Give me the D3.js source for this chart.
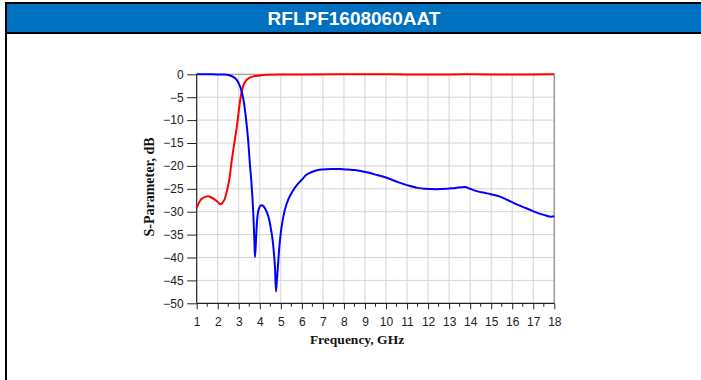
<!DOCTYPE html>
<html>
<head>
<meta charset="utf-8">
<script src="https://cdn.jsdelivr.net/npm/d3@7"></script>
<style>
  html, body { margin: 0; padding: 0; background: #fff; }
  svg { display: block; }
</style>
</head>
<body>
<svg id="chart" width="701" height="380"></svg>
<script>
const titleText = "RFLPF1608060AAT";
const xLabel = "Frequency, GHz";
const yLabel = "S-Parameter, dB";
const xTicks = [1,2,3,4,5,6,7,8,9,10,11,12,13,14,15,16,17,18];
const yTicks = [0,-5,-10,-15,-20,-25,-30,-35,-40,-45,-50];

// Red curve (reflection), [GHz, dB]
const redFreq = [1.0,1.08,1.16,1.3,1.45,1.55,1.7,1.87,2.0,2.14,2.25,2.35,2.45,2.55,2.66,2.78,2.9,3.0,3.06,3.12,3.18,3.28,3.38,3.5,3.69,4.0,4.33,5,6,8,10,12,14,16,18];
const redDb   = [-29.2,-28.3,-27.6,-27.0,-26.7,-26.6,-26.9,-27.4,-27.9,-28.4,-27.9,-27.0,-25.2,-23.0,-19.0,-15.3,-11.7,-8.0,-5.9,-4.2,-3.0,-1.8,-1.2,-0.8,-0.45,-0.25,-0.1,-0.05,-0.03,0,0,-0.05,0,-0.05,0];

// Blue curve (transmission), [GHz, dB]
const blueFreq = [1.0,1.5,2.0,2.27,2.45,2.58,2.75,2.9,3.0,3.09,3.21,3.34,3.45,3.53,3.6,3.69,3.74,3.77,3.81,3.85,3.93,4.06,4.15,4.25,4.35,4.45,4.53,4.61,4.67,4.72,4.77,4.81,4.85,4.93,5.0,5.09,5.18,5.28,5.45,5.59,5.8,6.0,6.2,6.39,6.6,6.94,7.4,7.81,8.2,8.52,8.8,9.08,9.5,10.03,10.6,11.14,11.5,11.85,12.4,12.88,13.3,13.75,14.0,14.31,14.8,15.42,15.8,16.21,16.7,17.16,17.5,17.87,18];
const blueDb   = [0,0,-0.02,-0.05,-0.1,-0.25,-0.6,-1.2,-2.0,-3.0,-5.2,-9.5,-14.6,-19.7,-23.5,-30.4,-36.0,-39.9,-37.0,-33.3,-29.8,-28.6,-28.7,-29.3,-30.3,-31.8,-33.8,-36.2,-39.0,-42.0,-47.4,-45.0,-42.7,-37.6,-34.5,-31.8,-29.8,-28.2,-26.4,-25.3,-24.0,-23.0,-22.0,-21.5,-21.1,-20.8,-20.7,-20.7,-20.8,-20.9,-21.1,-21.4,-21.9,-22.6,-23.6,-24.4,-24.8,-25.0,-25.1,-25.0,-24.8,-24.6,-25.0,-25.5,-26.0,-26.7,-27.5,-28.4,-29.3,-30.2,-30.7,-31.1,-31.0];

const svg = d3.select("#chart");

// Frame: title bar and borders
svg.append("rect").attr("x", 5).attr("y", 2).attr("width", 696).attr("height", 32).attr("fill", "#000");
svg.append("rect").attr("x", 7).attr("y", 4).attr("width", 694).attr("height", 28).attr("fill", "#0070C0");
svg.append("rect").attr("x", 5).attr("y", 2).attr("width", 2).attr("height", 378).attr("fill", "#000");
svg.append("text").attr("x", 354).attr("y", 25).attr("text-anchor", "middle")
  .attr("font-family", "Liberation Sans, Arial, sans-serif").attr("font-weight", "bold")
  .attr("font-size", "19px").attr("fill", "#fff").text(titleText);

const x = d3.scaleLinear().domain([1, 18]).range([196.7, 554.3]);
const y = d3.scaleLinear().domain([-50, 0]).range([303.3, 74.3]);

// grid
const g = svg.append("g");
g.selectAll(".vg").data(xTicks.slice(1, -1)).join("line")
  .attr("x1", d => x(d)).attr("x2", d => x(d)).attr("y1", y(0)).attr("y2", y(-50))
  .attr("stroke", "#d4d4d4").attr("stroke-width", 1);
g.selectAll(".hg").data(yTicks.slice(1, -1)).join("line")
  .attr("x1", x(1)).attr("x2", x(18)).attr("y1", d => y(d)).attr("y2", d => y(d))
  .attr("stroke", "#d4d4d4").attr("stroke-width", 1);
// top & right border
g.append("line").attr("x1", x(1)).attr("x2", x(18)).attr("y1", y(0)).attr("y2", y(0)).attr("stroke", "#888").attr("stroke-width", 1);
g.append("line").attr("x1", x(18)).attr("x2", x(18)).attr("y1", y(0)).attr("y2", y(-50)).attr("stroke", "#999").attr("stroke-width", 1.5);

const tickFont = "Liberation Sans, Arial, sans-serif";

// x axis
const xAxis = svg.append("g").attr("transform", `translate(0,${y(-50)})`)
  .call(d3.axisBottom(x).tickValues(xTicks).tickFormat(d3.format("d")).tickSize(6).tickPadding(8));
// minor ticks
const minor = d3.range(1.5, 18, 1);
svg.append("g").selectAll("line").data(minor).join("line")
  .attr("x1", d => x(d)).attr("x2", d => x(d)).attr("y1", y(-50)).attr("y2", y(-50) + 3.5)
  .attr("stroke", "#222").attr("stroke-width", 1);

// y axis
const yAxis = svg.append("g").attr("transform", `translate(${x(1)},0)`)
  .call(d3.axisLeft(y).tickValues(yTicks).tickFormat(d3.format("d")).tickSize(9.5).tickPadding(3.5));

[xAxis, yAxis].forEach(a => {
  a.select(".domain").attr("stroke", "#222").attr("stroke-width", 1.2);
  a.selectAll(".tick line").attr("stroke", "#222");
  a.selectAll(".tick text").attr("font-family", tickFont).attr("font-size", "12px").attr("fill", "#222");
});
xAxis.select(".domain").attr("d", `M${x(1)},0H${x(18)}`);
yAxis.select(".domain").attr("d", `M0,${y(-50)}V${y(0)}`);

// axis labels
svg.append("text").attr("x", 357).attr("y", 344).attr("text-anchor", "middle")
  .attr("font-family", "Liberation Serif, Times New Roman, serif").attr("font-weight", "bold")
  .attr("font-size", "13.5px").attr("fill", "#111").text(xLabel);
svg.append("text").attr("transform", "translate(154,187) rotate(-90)").attr("text-anchor", "middle")
  .attr("font-family", "Liberation Serif, Times New Roman, serif").attr("font-weight", "bold")
  .attr("font-size", "14px").attr("fill", "#111").text(yLabel);

// curves
const line = d3.line().x(d => x(d[0])).y(d => y(d[1])).curve(d3.curveMonotoneX);
const redData = redFreq.map((f, i) => [f, redDb[i]]);
const blueData = blueFreq.map((f, i) => [f, blueDb[i]]);
svg.append("path").datum(redData).attr("d", line).attr("fill", "none")
  .attr("stroke", "#ff0000").attr("stroke-width", 2);
svg.append("path").datum(blueData).attr("d", line).attr("fill", "none")
  .attr("stroke", "#0000ff").attr("stroke-width", 2);
</script>
</body>
</html>
